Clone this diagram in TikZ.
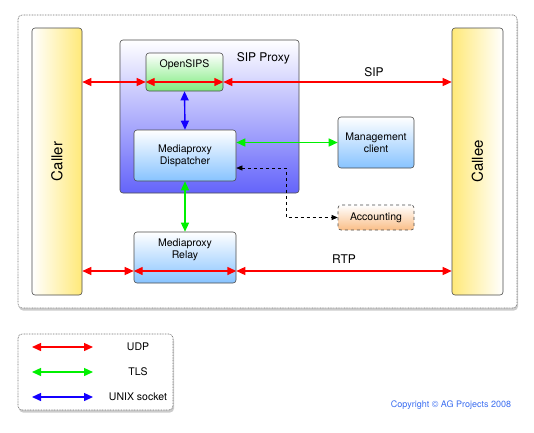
\documentclass[tikz,border=0pt]{standalone}
\usepackage{fontspec}
\setmainfont{TeX Gyre Heros}
\usetikzlibrary{arrows.meta}
\usetikzlibrary{positioning}
\usetikzlibrary{shadows}

\definecolor{udp}{RGB}{255,0,0}
\definecolor{tls}{RGB}{0,240,0}
\definecolor{unixsock}{RGB}{20,0,255}
\definecolor{peer}{RGB}{255,233,120}
\definecolor{proxyblue}{RGB}{100,100,250}
\definecolor{compblue}{RGB}{135,195,255}
\definecolor{sipsgreen}{RGB}{125,235,125}
\definecolor{acctorange}{RGB}{250,190,135}
\definecolor{copyblue}{RGB}{60,110,240}

\begin{document}
\begin{tikzpicture}[x=1pt,y=1pt,
    every node/.style={font=\fontsize{10.5}{12}\selectfont},
    box/.style={draw=black!70,rounded corners=3pt,line width=0.6pt,inner sep=0pt},
    comp/.style={box,top color=white,bottom color=compblue,minimum width=102pt,minimum height=51pt,align=center},
    link/.style={{Triangle[length=9pt,width=8pt]}-{Triangle[length=9pt,width=8pt]},line width=1.4pt},
    frame/.style={draw=black!55,dash pattern=on 0.8pt off 0.8pt,fill=white,rounded corners=4pt,line width=0.7pt,
        drop shadow={shadow xshift=1pt,shadow yshift=-2.5pt,opacity=0.4}},
    bigfont/.style={font=\fontsize{12}{14}\selectfont}]
    \useasboundingbox (0,0) rectangle (534,-432);

    % frames
    \node[frame,minimum width=499pt,minimum height=293pt] (system) at (267.5,-161.5) {};
    \node[frame,minimum width=155pt,minimum height=76pt] (legend) at (95.5,-372) {};

    % end points
    \node[box,left color=white,right color=peer,minimum width=50pt,minimum height=267pt] (caller) at (57,-161.5) {};
    \node[box,left color=peer,right color=white,minimum width=51pt,minimum height=267pt] (callee) at (477.5,-161.5) {};
    \node[rotate=90,font=\fontsize{15}{17}\selectfont] (callertxt) at (caller) {Caller};
    \node[rotate=90,font=\fontsize{15}{17}\selectfont] (calleetxt) at (callee) {Callee};

    % proxy
    \node[box,top color=white,bottom color=proxyblue,minimum width=179pt,minimum height=153pt] (proxy) at (209.5,-116.5) {};
    \node[bigfont,anchor=north east] (proxytxt) at ([xshift=-6pt,yshift=-9.5pt]proxy.north east) {SIP Proxy};
    \node[box,top color=white,bottom color=sipsgreen,minimum width=77pt,minimum height=38pt] (osips) at (184.5,-72) {};
    \node[below=3.7pt of osips.north] (osipstxt) {OpenSIPS};
    \node[comp] (disp) at (185,-155.5) {Mediaproxy\\Dispatcher};
    \node[comp,minimum width=76pt] (mgmt) at (376,-142.5) {Management\\client};
    \node[box,dashed,top color=white,bottom color=acctorange,minimum width=76pt,minimum height=25pt] (acct) at (376,-217.5) {Accounting};
    \node[comp] (relay) at (185,-257.5) {};
    \node[below=3.7pt of relay.north,align=center] (relaytxt) {Mediaproxy\\Relay};

    % SIP signalling
    \coordinate (sip) at ([yshift=-10pt]osips.west);
    \draw[link,udp] (caller.east |- sip) -- (sip);
    \draw[link,udp] (sip) -- (osips.east |- sip);
    \draw[link,udp] (osips.east |- sip) -- node[pos=0.66,above=1.5pt,bigfont,black] (siptxt) {SIP} (callee.west |- sip);

    % RTP media
    \coordinate (rtp) at ([yshift=-13.5pt]relay.west);
    \draw[link,udp] (caller.east |- rtp) -- (rtp);
    \draw[link,udp] (rtp) -- (relay.east |- rtp);
    \draw[link,udp] (relay.east |- rtp) -- node[above=3pt,bigfont,black] (rtptxt) {RTP} (callee.west |- rtp);

    % control
    \draw[link,unixsock] (osips.south) -- (disp.north);
    \draw[link,tls] (disp.east |- mgmt) -- (mgmt.west);
    \draw[link,tls] (disp.south) -- (relay.north);
    \draw[{Triangle[length=6pt,width=5pt]}-{Triangle[length=6pt,width=5pt]},dashed,line width=0.6pt]
        ([yshift=-12.5pt]disp.east) -- ++(50,0) |- (acct.west);

    % legend
    \foreach \y/\c/\t [count=\i] in {347/udp/UDP,372/tls/TLS,397/unixsock/UNIX socket} {
        \coordinate (key\i a) at (32,-\y);
        \coordinate (key\i b) at (93,-\y);
        \node (key\i) at (138,-\y) {\t};
        \draw[link,\c] (key\i a) -- (key\i b);
    }

    \node[font=\fontsize{9}{10}\selectfont,text=copyblue] (copy) at (451,-405) {Copyright © AG Projects 2008};
\end{tikzpicture}
\end{document}
